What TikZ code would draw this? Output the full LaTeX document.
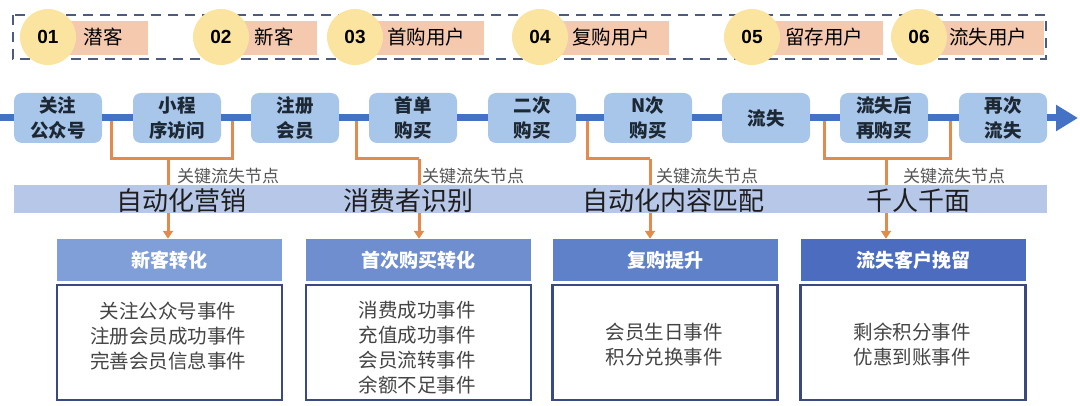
\documentclass[tikz,border=0pt]{standalone}
\usepackage{fontspec}
\setmainfont{Noto Sans CJK SC}
\newfontfamily\numfont{Liberation Sans}
\usetikzlibrary{arrows.meta}
\definecolor{flowfill}{HTML}{A8C5EA}
\definecolor{flowtext}{HTML}{1C2833}
\definecolor{flowline}{HTML}{4472C4}
\definecolor{orangec}{HTML}{E38A4C}
\definecolor{circlec}{HTML}{FBE4A0}
\definecolor{peachc}{HTML}{F4C9AD}
\definecolor{dashc}{HTML}{4D5B7C}
\definecolor{bandc}{HTML}{B7C7E8}
\definecolor{hA}{HTML}{809FD8}
\definecolor{hB}{HTML}{6E8ED0}
\definecolor{hC}{HTML}{5F81CA}
\definecolor{hD}{HTML}{4C6DBF}
\definecolor{boxborder}{HTML}{3A4A80}
\definecolor{contenttext}{HTML}{444444}
\definecolor{labeltext}{HTML}{555555}
\definecolor{bandtext}{HTML}{1E1E1E}
\begin{document}
\begin{tikzpicture}[x=1pt,y=-1pt,
  dashbox/.style={draw=dashc,line width=2.6pt,dash pattern=on 10pt off 7pt},
  peachbox/.style={fill=peachc},
  numcircle/.style={circle,fill=circlec,minimum size=56pt,inner sep=0pt,font=\numfont\bfseries\fontsize{19}{22}\selectfont,text=black},
  stagetext/.style={font=\fontsize{19.5}{22}\selectfont,text=black},
  flowbox/.style={rounded corners=8pt,fill=flowfill,minimum width=88pt,minimum height=50pt,inner sep=0pt,align=center,text=flowtext,font=\bfseries\fontsize{18.5}{25}\selectfont},
  flowconn/.style={draw=flowline,line width=7pt},
  orangeline/.style={draw=orangec,line width=3pt},
  orangearrow/.style={draw=orangec,line width=3pt,-{Triangle[length=8pt,width=10pt]}},
  keylabel/.style={anchor=west,inner sep=0pt,text=labeltext,font=\fontsize{17}{20}\selectfont},
  bandbox/.style={fill=bandc,minimum width=1033pt,minimum height=28pt,inner sep=0pt},
  bandlabel/.style={inner sep=0pt,text=bandtext,font=\fontsize{26}{30}\selectfont},
  headbox/.style={minimum width=225pt,minimum height=42pt,inner sep=0pt,text=white,font=\bfseries\fontsize{19}{22}\selectfont},
  contentbox/.style={draw=boxborder,line width=2.5pt,minimum width=225pt,minimum height=115pt,inner sep=0pt},
  contentlabel/.style={align=center,inner sep=0pt,text=contenttext,font=\fontsize{19.5}{25}\selectfont}]
\useasboundingbox[fill=white] (0,0) rectangle (1080,406);

% ---- top stage row ----
\draw[dashbox] (13,15) rectangle (1046,59);
\foreach \cx/\rx/\tx/\n/\t/\nm in {48/148/103/01/潜客/a,221/317/274/02/新客/b,355/484/426/03/首购用户/c,540/669/611/04/复购用户/d,752/883/824/05/留存用户/e,919/1044/988/06/流失用户/f}{
  \fill[peachbox] (\cx,21) rectangle (\rx,55);
  \node[stagetext] (st\nm) at (\tx,37) {\t};
  \node[numcircle] (nc\nm) at (\cx,37) {\n};
}

% ---- flow boxes ----
\coordinate (fstart) at (0,118);
\coordinate (fend) at (1078,118);
\node[flowbox] (f1) at (58,118) {关注\\公众号};
\node[flowbox] (f2) at (177,118) {小程\\序访问};
\node[flowbox] (f3) at (295,118) {注册\\会员};
\node[flowbox] (f4) at (413,118) {首单\\购买};
\node[flowbox] (f5) at (532,118) {二次\\购买};
\node[flowbox] (f6) at (648,118) {N次\\购买};
\node[flowbox] (f7) at (766,118) {流失};
\node[flowbox] (f8) at (884,118) {流失后\\再购买};
\node[flowbox] (f9) at (1003,118) {再次\\流失};
\draw[flowconn] (fstart) -- (f1);
\foreach \a/\b in {f1/f2,f2/f3,f3/f4,f4/f5,f5/f6,f6/f7,f7/f8,f8/f9}{
  \draw[flowconn] (\a) -- (\b);
}
\draw[flowconn,-{Triangle[length=22pt,width=25pt]}] (f9.east) -- (fend);

% ---- header and content boxes ----
\node[headbox,fill=hA] (h1) at (169.5,260) {新客转化};
\node[headbox,fill=hB] (h2) at (418.5,260) {首次购买转化};
\node[headbox,fill=hC] (h3) at (665,260) {复购提升};
\node[headbox,fill=hD] (h4) at (913,260) {流失客户挽留};
\node[contentbox] (c1) at (169.5,342.5) {};
\node[contentbox] (c2) at (418.5,342.5) {};
\node[contentbox] (c3) at (665,342.5) {};
\node[contentbox] (c4) at (913,342.5) {};
\node[contentlabel] (t1) at (168,336) {关注公众号事件\\注册会员成功事件\\完善会员信息事件};
\node[contentlabel] (t2) at (417,348) {消费成功事件\\充值成功事件\\会员流转事件\\余额不足事件};
\node[contentlabel] (t3) at (664,345) {会员生日事件\\积分兑换事件};
\node[contentlabel] (t4) at (912,345) {剩余积分事件\\优惠到账事件};

% ---- orange connectors ----
\coordinate (a1) at (111,121.5); \coordinate (b1) at (232,121.5); \coordinate (m1) at (168,159);
\coordinate (a2) at (356,121.5); \coordinate (m2) at (419,159);
\coordinate (a3) at (587,121.5); \coordinate (m3) at (650,159);
\coordinate (a4) at (824,121.5); \coordinate (b4) at (950,121.5); \coordinate (m4) at (886,159);
\draw[orangeline] (a1) |- (b1 |- m1) -- (b1);
\draw[orangearrow] (m1) -- (m1 |- h1.north);
\draw[orangeline] (a2) |- (m2);
\draw[orangearrow] (m2) -- (m2 |- h2.north);
\draw[orangeline] (a3) |- (m3);
\draw[orangearrow] (m3) -- (m3 |- h3.north);
\draw[orangeline] (a4) |- (b4 |- m4) -- (b4);
\draw[orangearrow] (m4) -- (m4 |- h4.north);

% ---- band ----
\node[bandbox] (band) at (530.5,199) {};
\node[bandlabel] (bl1) at (181,201) {自动化营销};
\node[bandlabel] (bl2) at (408,201) {消费者识别};
\node[bandlabel] (bl3) at (673,201) {自动化内容匹配};
\node[bandlabel] (bl4) at (918,201) {千人千面};

% ---- key labels ----
\node[keylabel] (k1) at (177,176) {关键流失节点};
\node[keylabel] (k2) at (422,176) {关键流失节点};
\node[keylabel] (k3) at (656,176) {关键流失节点};
\node[keylabel] (k4) at (903,176) {关键流失节点};
\end{tikzpicture}
\end{document}
